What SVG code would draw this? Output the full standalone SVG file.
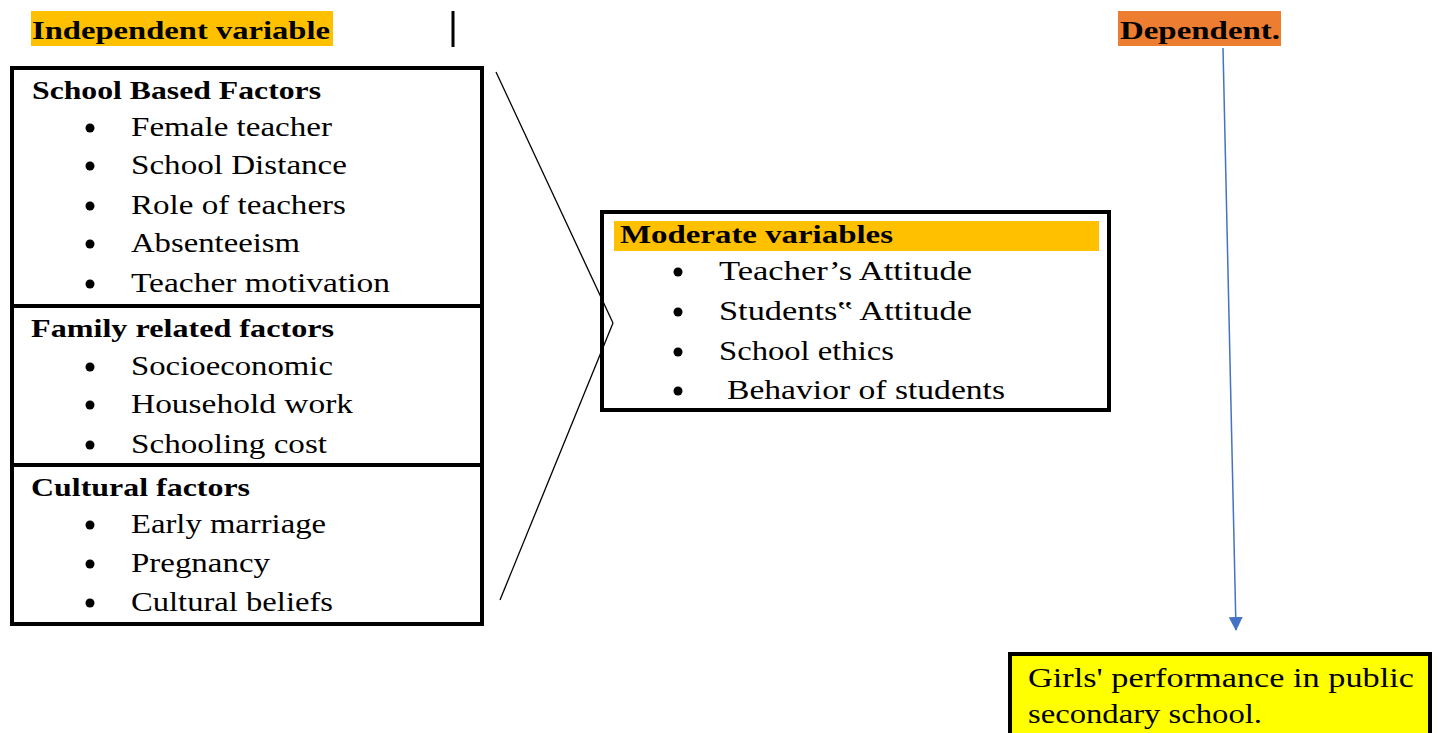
<svg xmlns="http://www.w3.org/2000/svg" width="1438" height="733" viewBox="0 0 1438 733">
<defs>
<style>
.t{font-family:"Liberation Serif","Times New Roman",serif;font-size:27px;fill:#000}
.b{font-weight:bold;font-size:26px}
.box{fill:none;stroke:#000;stroke-width:4}
.con{stroke:#000;stroke-width:1.3;fill:none}
</style>
<marker id="ah" markerWidth="14" markerHeight="14" refX="13" refY="7" orient="auto" markerUnits="userSpaceOnUse" viewBox="0 0 14 14">
<path d="M0,0 L14,7 L0,14 Z" fill="#4472C4"/>
</marker>
</defs>
<rect width="1438" height="733" fill="#fff"/>

<g id="independent-label">
<rect x="31" y="11" width="302" height="35" fill="#FFC000"/>
<text class="t b" x="32" y="39" textLength="298" lengthAdjust="spacingAndGlyphs">Independent variable</text>
<rect x="451.5" y="11" width="3" height="36" fill="#000"/>
</g>

<g id="dependent-label">
<rect x="1118" y="11" width="163" height="35" fill="#ED7D31"/>
<text class="t b" x="1120" y="39" textLength="160" lengthAdjust="spacingAndGlyphs">Dependent.</text>
</g>

<g id="independent-box">
<rect class="box" x="12" y="68" width="470" height="556"/>
<line x1="12" y1="306" x2="482" y2="306" stroke="#000" stroke-width="4"/>
<line x1="12" y1="465" x2="482" y2="465" stroke="#000" stroke-width="4"/>
</g>

<g id="school-factors">
<text class="t b" x="32" y="99" textLength="289" lengthAdjust="spacingAndGlyphs">School Based Factors</text>
<circle cx="90" cy="128" r="4.5"/><text class="t" x="131" y="136" textLength="201" lengthAdjust="spacingAndGlyphs">Female teacher</text>
<circle cx="90" cy="166" r="4.5"/><text class="t" x="131" y="174" textLength="216" lengthAdjust="spacingAndGlyphs">School Distance</text>
<circle cx="90" cy="206" r="4.5"/><text class="t" x="131" y="214" textLength="215" lengthAdjust="spacingAndGlyphs">Role of teachers</text>
<circle cx="90" cy="244" r="4.5"/><text class="t" x="131" y="252" textLength="169" lengthAdjust="spacingAndGlyphs">Absenteeism</text>
<circle cx="90" cy="284" r="4.5"/><text class="t" x="131" y="292" textLength="259" lengthAdjust="spacingAndGlyphs">Teacher motivation</text>
</g>

<g id="family-factors">
<text class="t b" x="31" y="337" textLength="303" lengthAdjust="spacingAndGlyphs">Family  related factors</text>
<circle cx="90" cy="367" r="4.5"/><text class="t" x="131" y="375" textLength="202" lengthAdjust="spacingAndGlyphs">Socioeconomic</text>
<circle cx="90" cy="405" r="4.5"/><text class="t" x="131" y="413" textLength="222" lengthAdjust="spacingAndGlyphs">Household work</text>
<circle cx="90" cy="445" r="4.5"/><text class="t" x="131" y="453" textLength="196" lengthAdjust="spacingAndGlyphs">Schooling cost</text>
</g>

<g id="cultural-factors">
<text class="t b" x="31" y="496" textLength="219" lengthAdjust="spacingAndGlyphs">Cultural factors</text>
<circle cx="90" cy="525" r="4.5"/><text class="t" x="131" y="533" textLength="195" lengthAdjust="spacingAndGlyphs">Early marriage</text>
<circle cx="90" cy="564" r="4.5"/><text class="t" x="131" y="572" textLength="139" lengthAdjust="spacingAndGlyphs">Pregnancy</text>
<circle cx="90" cy="603" r="4.5"/><text class="t" x="131" y="611" textLength="202" lengthAdjust="spacingAndGlyphs">Cultural beliefs</text>
</g>

<g id="moderate-box">
<rect class="box" x="602" y="212" width="507" height="198"/>
<rect x="614" y="221" width="485" height="30" fill="#FFC000"/>
<text class="t b" x="620" y="243" textLength="273" lengthAdjust="spacingAndGlyphs">Moderate variables</text>
<circle cx="678" cy="272" r="4.5"/><text class="t" x="719" y="280" textLength="253" lengthAdjust="spacingAndGlyphs">Teacher’s Attitude</text>
<circle cx="678" cy="312" r="4.5"/><text class="t" x="719" y="320" textLength="253" lengthAdjust="spacingAndGlyphs">Students‟ Attitude</text>
<circle cx="678" cy="352" r="4.5"/><text class="t" x="719" y="360" textLength="175" lengthAdjust="spacingAndGlyphs">School ethics</text>
<circle cx="678" cy="391" r="4.5"/><text class="t" x="727" y="399" textLength="278" lengthAdjust="spacingAndGlyphs">Behavior of students</text>
</g>

<g id="outcome-box">
<rect x="1010" y="654" width="420" height="84" fill="#FFFF00" stroke="#000" stroke-width="4"/>
<text class="t" x="1028" y="687" textLength="386" lengthAdjust="spacingAndGlyphs">Girls' performance in public</text>
<text class="t" x="1028" y="723" textLength="234" lengthAdjust="spacingAndGlyphs">secondary school.</text>
</g>

<g id="connectors">
<line class="con" x1="496" y1="72" x2="613" y2="323"/>
<line class="con" x1="500" y1="600" x2="613" y2="323"/>
<line x1="1223" y1="48" x2="1236" y2="630" stroke="#4472C4" stroke-width="1.5" marker-end="url(#ah)"/>
</g>
</svg>
